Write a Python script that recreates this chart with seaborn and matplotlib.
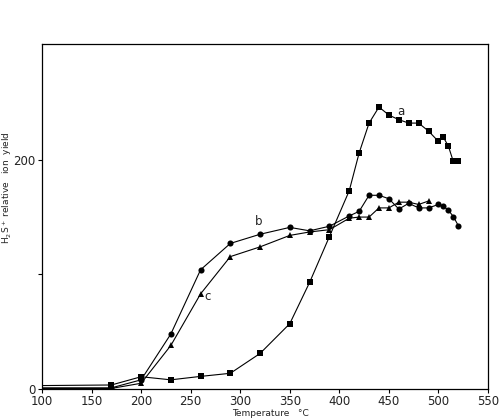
import matplotlib
matplotlib.use("Agg")
import matplotlib.pyplot as plt
import seaborn as sns
import pandas as pd

# Series a (squares)
temp_a = [100, 170, 200, 230, 260, 290, 320, 350, 370, 390, 410, 420, 430, 440,
          450, 460, 470, 480, 490, 500, 505, 510, 515, 520]
yield_a = [3, 3.5, 10.7, 8, 11, 13.7, 31, 57, 93, 133, 173, 206, 232, 246,
           239, 235, 232, 232, 225, 216, 219.5, 212, 198.5, 198.5]

# Series b (circles)
temp_b = [100, 170, 200, 230, 260, 290, 320, 350, 370, 390, 410, 420, 430, 440,
          450, 460, 470, 480, 490, 500, 505, 510, 515, 520]
yield_b = [1, 1, 8, 48, 104, 127, 135, 141, 138, 142, 151, 155, 169, 169,
           166, 157, 162, 158, 158, 161, 159.5, 156, 150.5, 142.6]

# Series c (triangles)
temp_c = [100, 170, 200, 230, 260, 290, 320, 350, 370, 390, 410, 420, 430, 440,
          450, 460, 470, 480, 490]
yield_c = [0.5, 0.5, 5, 38, 83, 115.5, 124, 134, 137, 139, 149, 150, 150, 158,
           158, 163, 163, 161, 164]

x_ticks = [100, 150, 200, 250, 300, 350, 400, 450, 500, 550]
y_ticks = [0, 100, 200]
y_ticklabels = ["0", "", "200"]

sns.set_style("ticks")
plt.rcParams["font.family"] = ["DejaVu Sans"]

fig = plt.figure(figsize=(5.02, 4.18), dpi=100)
ax = fig.add_axes([42/502, 1-389/418, (488-42)/502, (389-44)/418])

series = [
    (temp_a, yield_a, "s", "a"),
    (temp_b, yield_b, "o", "b"),
    (temp_c, yield_c, "^", "c"),
]
for tx, ty, mk, name in series:
    df = pd.DataFrame({"T": tx, "Y": ty})
    sns.lineplot(data=df, x="T", y="Y", ax=ax, color="black", lw=0.8,
                 marker=mk, markersize=4.4 if mk != "^" else 4.2,
                 markeredgewidth=0, markevery=slice(1, None),
                 sort=False, estimator=None)

ax.set_xlim(100, 550)
ax.set_ylim(0, 301)
ax.set_xticks(x_ticks)
ax.set_xticklabels([str(t) for t in x_ticks])
ax.set_yticks(y_ticks)
ax.set_yticklabels(y_ticklabels)
ax.tick_params(axis="both", direction="out", length=3, width=0.8,
               labelsize=8.5, pad=1.5, color="black", labelcolor="#222222")
for s in ax.spines.values():
    s.set_visible(True)
    s.set_linewidth(0.9)
    s.set_color("black")

ax.set_xlabel("")
ax.set_ylabel("")
fig.text(270/502, 1-413.5/418, "Temperature   °C", fontsize=6.5,
         ha="center", va="center", color="#222222")
fig.text(7/502, 1-188/418, "H$_2$S$^+$ relative   ion  yield", fontsize=6.5,
         ha="center", va="center", rotation=90, color="#222222")

ax.text(462, 242, "a", fontsize=8.5, ha="center", va="center", color="#222222")
ax.text(319, 146, "b", fontsize=8.5, ha="center", va="center", color="#222222")
ax.text(267, 81, "c", fontsize=8.5, ha="center", va="center", color="#222222")

fig.savefig("out.png", dpi=100)
